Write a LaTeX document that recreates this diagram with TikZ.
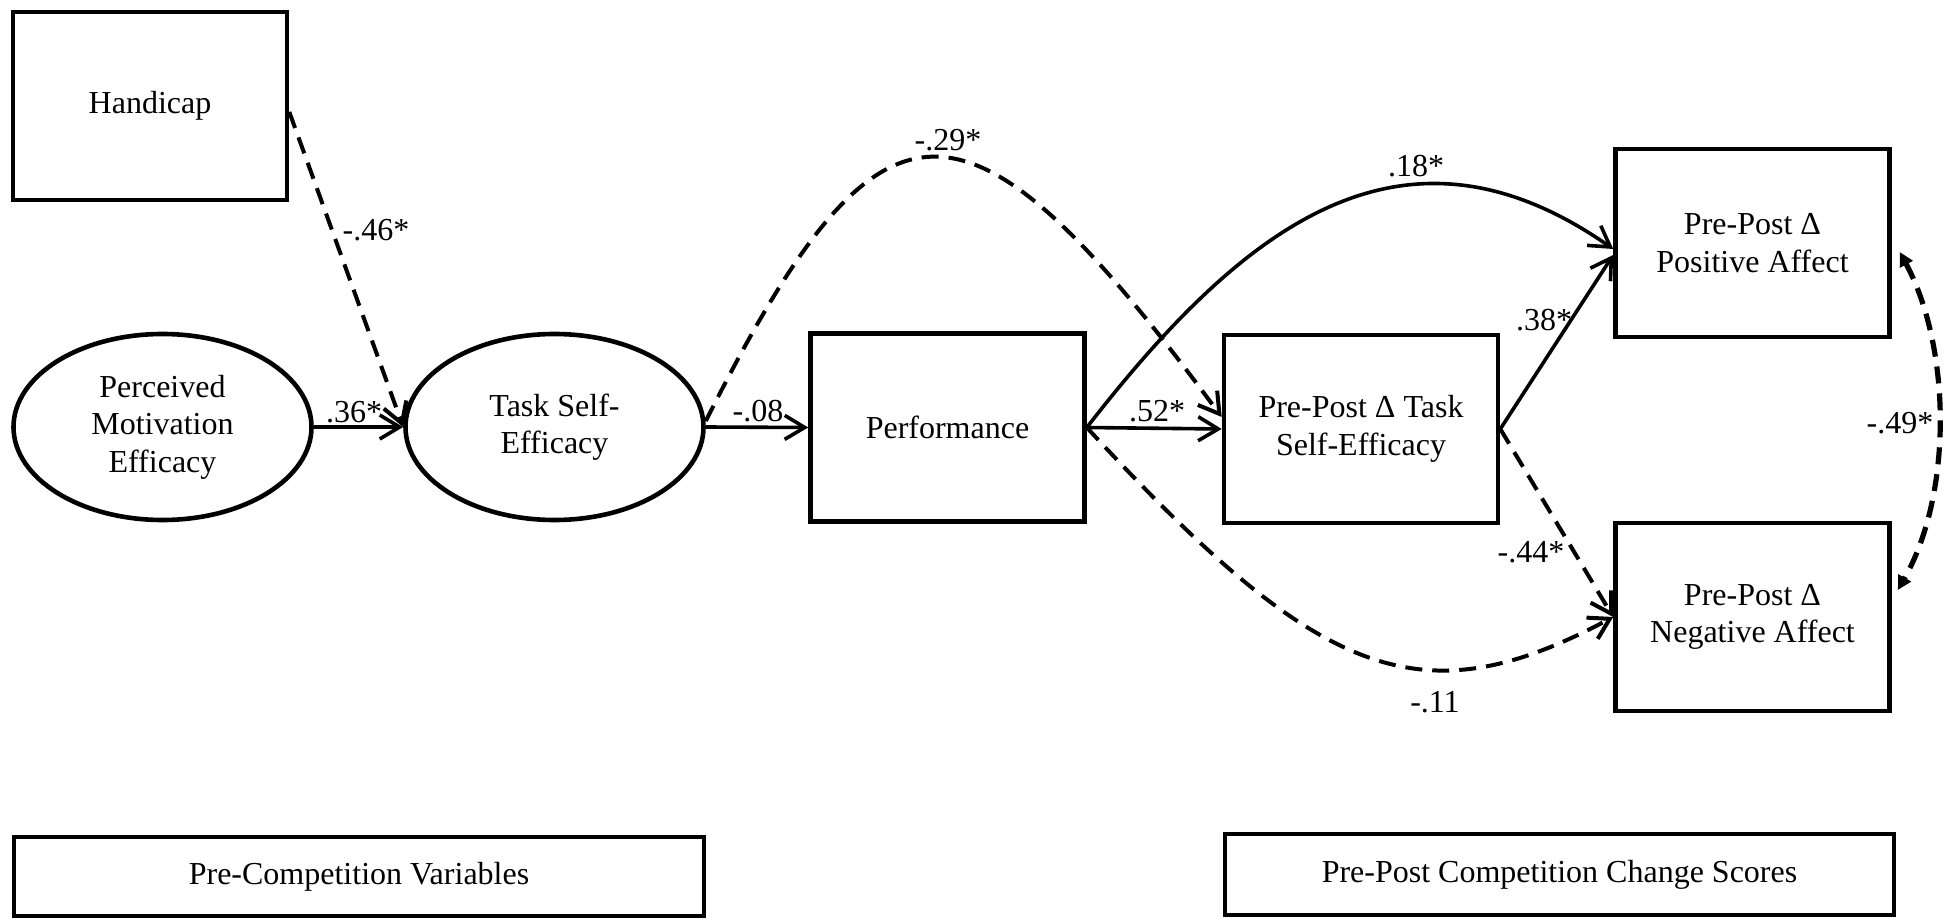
\documentclass[tikz,border=0pt]{standalone}
\usepackage{fontspec}
\setmainfont{Liberation Serif}
\usetikzlibrary{arrows.meta,shapes.geometric}
\begin{document}
\begin{tikzpicture}[x=0.5pt,y=-0.5pt,
  every node/.style={font=\fontsize{16}{18.75}\selectfont},
  box/.style={draw, line width=2.3pt, minimum width=137pt, minimum height=94pt, inner sep=0pt, align=center},
  oval/.style={draw, ellipse, line width=2.3pt, minimum width=149pt, minimum height=93pt, inner sep=0pt, align=center},
  legend/.style={draw, line width=1.7pt, inner sep=0pt, align=center},
  lbl/.style={inner sep=0pt},
  conn/.style={line width=1.8pt, -{Straight Barb[length=10pt,width=12pt]}},
  dconn/.style={conn, line width=2pt, dash pattern=on 8.5pt off 5pt},
  corr/.style={line width=2.6pt, dash pattern=on 8.5pt off 5pt,
    {Triangle[length=7pt,width=7pt]}-{Triangle[length=7pt,width=7pt]}},
]
\useasboundingbox (0,0) rectangle (1945,919);

% nodes
\node[box] (hc) at (150,106) {Handicap};
\node[oval] (pme) at (162.5,427) {Perceived\\Motivation\\Efficacy};
\node[oval] (tse) at (554.5,427) {Task Self-\\Efficacy};
\node[box] (perf) at (947.5,427.5) {Performance};
\node[box] (ptse) at (1361,429) {Pre-Post Δ Task\\Self-Efficacy};
\node[box] (ppa) at (1752.5,243) {Pre-Post Δ\\Positive Affect};
\node[box] (pna) at (1752.5,617) {Pre-Post Δ\\Negative Affect};
\node[legend, minimum width=345pt, minimum height=39.5pt] (bl) at (359,876.5) {Pre-Competition Variables};
\node[legend, minimum width=334.5pt, minimum height=40.5pt] (br) at (1559.5,874.5) {Pre-Post Competition Change Scores};

% connectors
\draw[dconn] ([yshift=-3pt]hc.east) -- (tse.west);
\draw[conn] (pme.east) -- (tse.west);
\draw[conn] (tse.east) -- (perf.west);
\draw[dconn] ([yshift=3pt]tse.east) .. controls (882,70) and (965,70) .. ([yshift=6pt]ptse.west);
\draw[conn] (perf.east) -- (ptse.west);
\draw[conn] (perf.east) .. controls (1240,230) and (1400,100) .. ([yshift=-3pt]ppa.west);
\draw[conn] (ptse.east) -- ([yshift=-6pt]ppa.west);
\draw[dconn] (ptse.east) -- (pna.west);
\draw[dconn] (perf.east) .. controls (1320,680) and (1420,720) .. (pna.west);
\draw[corr] ([xshift=4pt,yshift=-4.5pt]ppa.east) .. controls (1952,350) and (1952,495) .. ([xshift=3pt,yshift=13.5pt]pna.east);

% labels
\node[lbl] (l46) at (376,230) {-.46*};
\node[lbl] (l36) at (354,412) {.36*};
\node[lbl] (l08) at (758,411) {-.08};
\node[lbl] (l29) at (948,140) {-.29*};
\node[lbl] (l52) at (1157,411) {.52*};
\node[lbl] (l18) at (1416,166) {.18*};
\node[lbl] (l38) at (1544,320) {.38*};
\node[lbl] (l44) at (1531,552) {-.44*};
\node[lbl] (l11) at (1435,702) {-.11};
\node[lbl] (l49) at (1900,423) {-.49*};
\end{tikzpicture}
\end{document}
